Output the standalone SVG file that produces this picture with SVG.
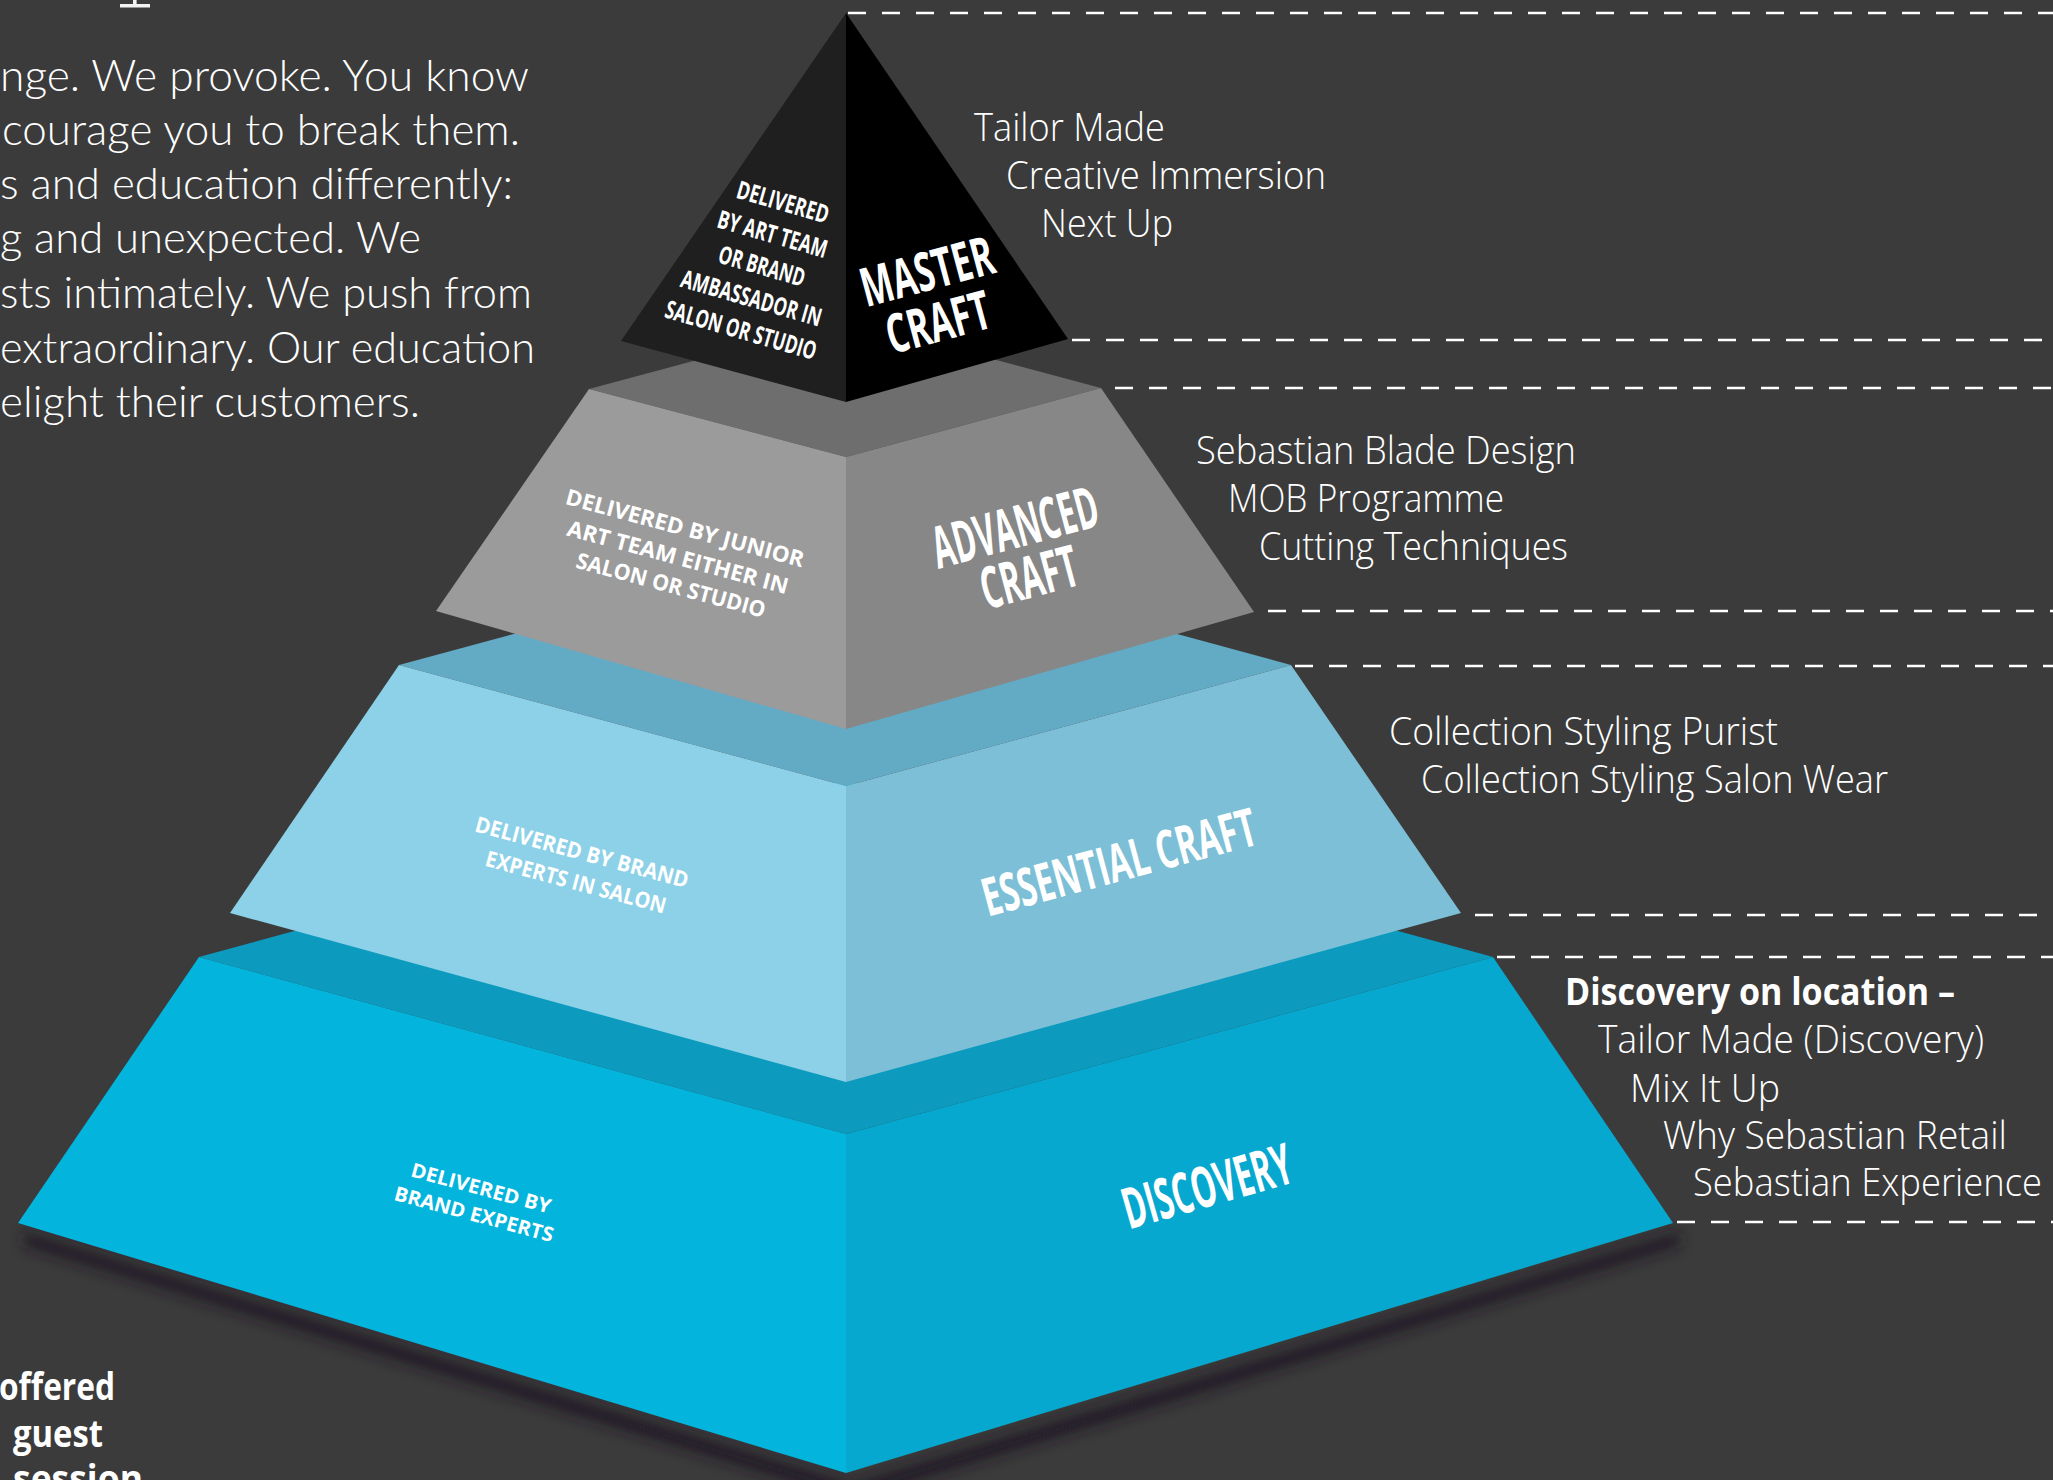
<svg xmlns="http://www.w3.org/2000/svg" width="2053" height="1480" viewBox="0 0 2053 1480">
<defs>
<style>
.bg{fill:#3b3b3b}
.para{font-family:Lato,"Open Sans","Liberation Sans",sans-serif;font-weight:300;font-size:43px;fill:#fff}
.list{font-family:"Open Sans","Liberation Sans",sans-serif;font-weight:300;font-size:38px;fill:#fff}
.listb{font-family:"Open Sans","Liberation Sans",sans-serif;font-weight:700;font-size:38px;fill:#fff}
.note{font-family:"Open Sans","Liberation Sans",sans-serif;font-weight:700;font-size:37px;fill:#fff}
.lbl{font-family:"Open Sans","Liberation Sans",sans-serif;font-weight:700;fill:#fff;text-anchor:middle}
.dash{stroke:#fff;stroke-width:2.6;stroke-dasharray:18 16;fill:none}
</style>
<filter id="blur" x="-10%" y="-50%" width="120%" height="200%"><feGaussianBlur stdDeviation="7"/></filter>
</defs>
<rect class="bg" x="0" y="0" width="2053" height="1480"/>

<g id="fragment">
<rect x="120" y="4" width="30" height="3.5" fill="#f2f2f2"/>
<rect x="133" y="0" width="3.6" height="5" fill="#f2f2f2"/>
</g>

<g id="intro">
<text class="para" x="0" y="91" textLength="529" lengthAdjust="spacingAndGlyphs">nge. We provoke. You know</text>
<text class="para" x="2" y="145" textLength="518" lengthAdjust="spacingAndGlyphs">courage you to break them.</text>
<text class="para" x="0" y="199" textLength="513" lengthAdjust="spacingAndGlyphs">s and education differently:</text>
<text class="para" x="0" y="253" textLength="421" lengthAdjust="spacingAndGlyphs">g and unexpected. We</text>
<text class="para" x="0" y="308" textLength="532" lengthAdjust="spacingAndGlyphs">sts intimately. We push from</text>
<text class="para" x="0" y="363" textLength="535" lengthAdjust="spacingAndGlyphs">extraordinary. Our education</text>
<text class="para" x="0" y="417" textLength="420" lengthAdjust="spacingAndGlyphs">elight their customers.</text>
</g>

<g id="note">
<text class="note" x="-1" y="1400" textLength="116" lengthAdjust="spacingAndGlyphs">offered</text>
<text class="note" x="13" y="1447" textLength="90" lengthAdjust="spacingAndGlyphs">guest</text>
<text class="note" x="13" y="1492" textLength="130" lengthAdjust="spacingAndGlyphs">session</text>
</g>

<g id="shadow">
<polygon points="24,1232 852,1484 1680,1232 1680,1246 852,1500 24,1246" fill="#1c1822" opacity="0.85" filter="url(#blur)"/>
</g>

<g id="tier-discovery">
<polygon points="199,957 846,780 1493,957 846,1134" fill="#0c9bbf"/>
<polygon points="199,957 846,1134 846,1473 18,1223" fill="#03b5dd"/>
<polygon points="846,1134 1493,957 1673,1223 846,1473" fill="#07a8cf"/>
<text class="lbl" font-size="20" transform="translate(481,1188) rotate(15)" y="7.1" textLength="144" lengthAdjust="spacingAndGlyphs">DELIVERED BY</text>
<text class="lbl" font-size="20" transform="translate(474,1214) rotate(15)" y="7.1" textLength="164" lengthAdjust="spacingAndGlyphs">BRAND EXPERTS</text>
<text class="lbl" font-size="57" transform="translate(1207,1186) rotate(-16)" y="20.3" textLength="174" lengthAdjust="spacingAndGlyphs">DISCOVERY</text>
</g>

<g id="tier-essential">
<polygon points="399,665 846,544 1291,665 846,786" fill="#63aac5"/>
<polygon points="399,665 846,786 846,1082 230,913" fill="#8cd1e7"/>
<polygon points="846,786 1291,665 1461,913 846,1082" fill="#7dbfd6"/>
<text class="lbl" font-size="22" transform="translate(582,852) rotate(15)" y="7.9" textLength="220" lengthAdjust="spacingAndGlyphs">DELIVERED BY BRAND</text>
<text class="lbl" font-size="22" transform="translate(576,882) rotate(15)" y="7.9" textLength="186" lengthAdjust="spacingAndGlyphs">EXPERTS IN SALON</text>
<text class="lbl" font-size="53" transform="translate(1119,862) rotate(-15)" y="18.9" textLength="282" lengthAdjust="spacingAndGlyphs">ESSENTIAL CRAFT</text>
</g>

<g id="tier-advanced">
<polygon points="589,389 846,320 1101,388 846,457" fill="#6e6e6e"/>
<polygon points="589,389 846,457 846,729 436,611" fill="#9b9b9b"/>
<polygon points="846,457 1101,388 1254,612 846,729" fill="#878787"/>
<text class="lbl" font-size="22" transform="translate(685,528) rotate(15)" y="7.9" textLength="246" lengthAdjust="spacingAndGlyphs">DELIVERED BY JUNIOR</text>
<text class="lbl" font-size="22" transform="translate(678,557) rotate(15)" y="7.9" textLength="228" lengthAdjust="spacingAndGlyphs">ART TEAM EITHER IN</text>
<text class="lbl" font-size="22" transform="translate(671,585) rotate(15)" y="7.9" textLength="195" lengthAdjust="spacingAndGlyphs">SALON OR STUDIO</text>
<text class="lbl" font-size="58" transform="translate(1015,527) rotate(-15)" y="20.7" textLength="170" lengthAdjust="spacingAndGlyphs">ADVANCED</text>
<text class="lbl" font-size="58" transform="translate(1029,577) rotate(-15)" y="20.7" textLength="99" lengthAdjust="spacingAndGlyphs">CRAFT</text>
</g>

<g id="tier-master">
<polygon points="846,13 621,341 846,402" fill="#1f1f1f"/>
<polygon points="846,13 1068,339 846,402" fill="#000000"/>
<text class="lbl" font-size="25" transform="translate(783,202) rotate(16)" y="8.9" textLength="95" lengthAdjust="spacingAndGlyphs">DELIVERED</text>
<text class="lbl" font-size="25" transform="translate(772.5,234) rotate(16)" y="8.9" textLength="113" lengthAdjust="spacingAndGlyphs">BY ART TEAM</text>
<text class="lbl" font-size="25" transform="translate(762,266) rotate(16)" y="8.9" textLength="89" lengthAdjust="spacingAndGlyphs">OR BRAND</text>
<text class="lbl" font-size="25" transform="translate(751.5,298) rotate(16)" y="8.9" textLength="145" lengthAdjust="spacingAndGlyphs">AMBASSADOR IN</text>
<text class="lbl" font-size="25" transform="translate(741,330) rotate(16)" y="8.9" textLength="156" lengthAdjust="spacingAndGlyphs">SALON OR STUDIO</text>
<text class="lbl" font-size="54" transform="translate(927,271) rotate(-15)" y="19.3" textLength="136" lengthAdjust="spacingAndGlyphs">MASTER</text>
<text class="lbl" font-size="54" transform="translate(938,322) rotate(-15)" y="19.3" textLength="106" lengthAdjust="spacingAndGlyphs">CRAFT</text>
</g>

<g id="guides">
<line class="dash" x1="848" y1="13" x2="2053" y2="13"/>
<line class="dash" x1="1072" y1="340" x2="2053" y2="340"/>
<line class="dash" x1="1115" y1="388" x2="2053" y2="388"/>
<line class="dash" x1="1268" y1="611" x2="2053" y2="611"/>
<line class="dash" x1="1295" y1="666" x2="2053" y2="666"/>
<line class="dash" x1="1475" y1="915" x2="2053" y2="915"/>
<line class="dash" x1="1497" y1="957" x2="2053" y2="957"/>
<line class="dash" x1="1677" y1="1222" x2="2053" y2="1222"/>
</g>

<g id="list-master">
<text class="list" x="974" y="141" textLength="191" lengthAdjust="spacingAndGlyphs">Tailor Made</text>
<text class="list" x="1006" y="189" textLength="320" lengthAdjust="spacingAndGlyphs">Creative Immersion</text>
<text class="list" x="1041" y="237" textLength="132" lengthAdjust="spacingAndGlyphs">Next Up</text>
</g>
<g id="list-advanced">
<text class="list" x="1196" y="464" textLength="380" lengthAdjust="spacingAndGlyphs">Sebastian Blade Design</text>
<text class="list" x="1228" y="512" textLength="276" lengthAdjust="spacingAndGlyphs">MOB Programme</text>
<text class="list" x="1259" y="560" textLength="309" lengthAdjust="spacingAndGlyphs">Cutting Techniques</text>
</g>
<g id="list-essential">
<text class="list" x="1389" y="745" textLength="389" lengthAdjust="spacingAndGlyphs">Collection Styling Purist</text>
<text class="list" x="1421" y="793" textLength="467" lengthAdjust="spacingAndGlyphs">Collection Styling Salon Wear</text>
</g>
<g id="list-discovery">
<text class="listb" x="1565" y="1005" textLength="390" lengthAdjust="spacingAndGlyphs">Discovery on location –</text>
<text class="list" x="1598" y="1053" textLength="386" lengthAdjust="spacingAndGlyphs">Tailor Made (Discovery)</text>
<text class="list" x="1630" y="1102" textLength="150" lengthAdjust="spacingAndGlyphs">Mix It Up</text>
<text class="list" x="1663" y="1149" textLength="344" lengthAdjust="spacingAndGlyphs">Why Sebastian Retail</text>
<text class="list" x="1693" y="1196" textLength="349" lengthAdjust="spacingAndGlyphs">Sebastian Experience</text>
</g>
</svg>
